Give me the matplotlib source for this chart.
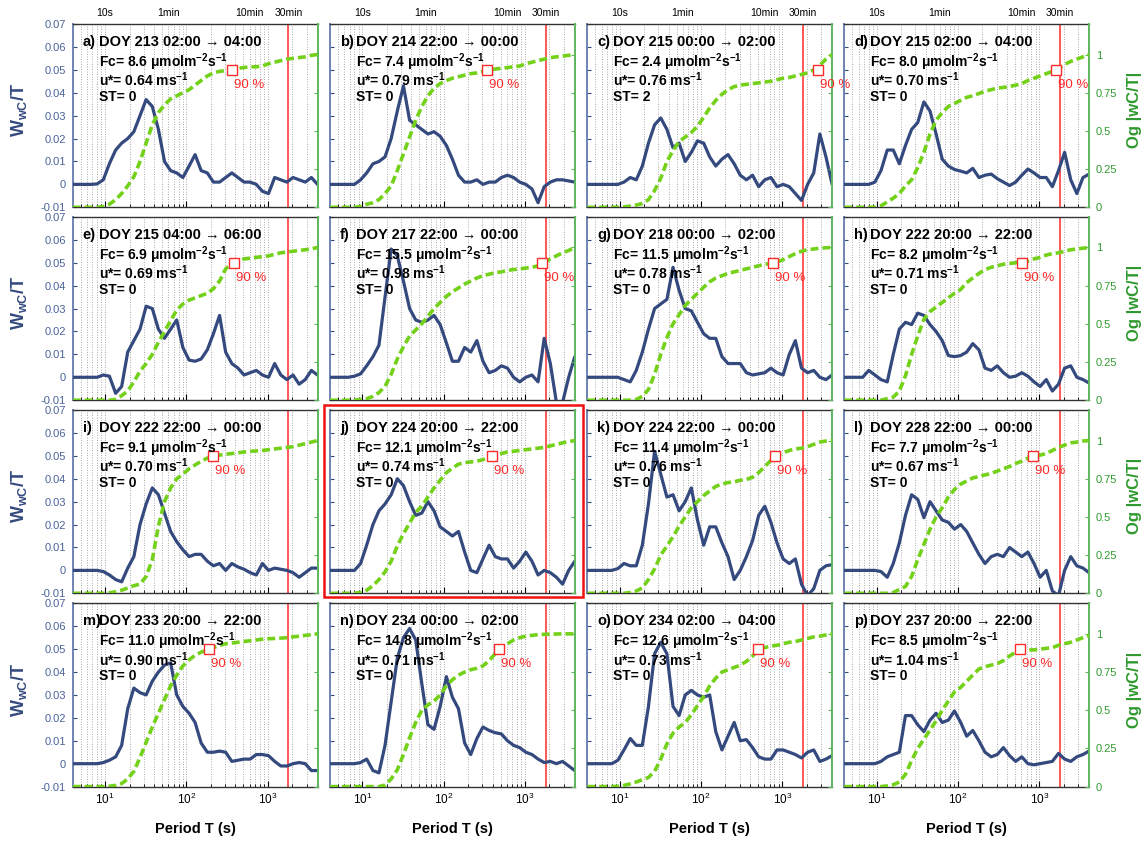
import matplotlib
matplotlib.use('Agg')
import matplotlib.pyplot as plt
from matplotlib.patches import Rectangle
from matplotlib.ticker import LogLocator, FixedLocator, FixedFormatter, NullFormatter

plt.rcParams['font.family'] = ['Liberation Sans', 'DejaVu Sans']
plt.rcParams['mathtext.fontset'] = 'custom'
plt.rcParams['mathtext.rm'] = 'Liberation Sans'
plt.rcParams['mathtext.default'] = 'regular'

# ---------------- data ----------------
periods = [4.0, 4.76, 5.66, 6.73, 8.0, 9.51, 11.3, 13.5, 16.0, 19.0, 22.6, 26.9, 32.0, 38.1,
           45.3, 53.8, 64.0, 76.1, 90.5, 108, 128, 152, 181, 215, 256, 304, 362, 431, 512,
           609, 724, 861, 1024, 1218, 1448, 1722, 2048, 2435, 2896, 3444, 4096]

wwc_a = [0, 0, 0, 0, 0.0002, 0.002, 0.009, 0.015, 0.018, 0.020, 0.023, 0.030, 0.037, 0.034, 0.024,
         0.010, 0.006, 0.005, 0.003, 0.008, 0.013, 0.006, 0.005, 0.001, 0.001, 0.003, 0.005, 0.003,
         0.001, 0.001, 0.0, -0.003, -0.004, 0.003, 0.002, 0.001, 0.003, 0.002, 0.001, 0.003, 0.0]
og_a = [0, 0, 0, 0, 0, 0.005, 0.02, 0.05, 0.09, 0.14, 0.2, 0.3, 0.42, 0.54, 0.62, 0.67, 0.71, 0.73,
        0.75, 0.77, 0.80, 0.83, 0.86, 0.88, 0.89, 0.895, 0.90, 0.91, 0.915, 0.92, 0.92, 0.925, 0.94,
        0.95, 0.96, 0.97, 0.975, 0.98, 0.985, 0.995, 1.0]

wwc_b = [0, 0, 0, 0, 0, 0.002, 0.005, 0.009, 0.010, 0.012, 0.020, 0.032, 0.043, 0.028, 0.026,
         0.024, 0.022, 0.023, 0.021, 0.017, 0.011, 0.004, 0.001, 0.001, 0.002, 0.0, 0.001, 0.001,
         0.003, 0.004, 0.003, 0.001, 0.0, -0.002, -0.008, -0.001, 0.001, 0.002, 0.002, 0.0015, 0.001]
og_b = [0, 0, 0, 0, 0, 0.005, 0.02, 0.03, 0.05, 0.09, 0.14, 0.24, 0.35, 0.46, 0.57, 0.66, 0.73,
        0.78, 0.81, 0.83, 0.845, 0.855, 0.865, 0.875, 0.88, 0.89, 0.90, 0.905, 0.91, 0.915, 0.92,
        0.925, 0.94, 0.95, 0.96, 0.97, 0.98, 0.985, 0.99, 0.995, 1.0]

wwc_c = [0, 0, 0, 0, 0, 0.0, 0.001, 0.003, 0.002, 0.008, 0.018, 0.026, 0.029, 0.024, 0.016, 0.018,
         0.010, 0.014, 0.019, 0.018, 0.012, 0.008, 0.011, 0.013, 0.009, 0.004, 0.002, 0.004, -0.001,
         0.002, 0.003, -0.001, 0.0, -0.001, -0.004, -0.007, 0.0, 0.005, 0.022, 0.012, 0.0]
og_c = [0, 0, 0, 0, 0, 0, 0.003, 0.008, 0.015, 0.025, 0.05, 0.11, 0.19, 0.30, 0.37, 0.43, 0.46,
        0.49, 0.53, 0.59, 0.65, 0.70, 0.74, 0.77, 0.79, 0.80, 0.805, 0.81, 0.815, 0.82, 0.825,
        0.835, 0.845, 0.85, 0.86, 0.87, 0.88, 0.90, 0.93, 0.97, 1.0]

wwc_d = [0, 0, 0, 0, 0, 0.001, 0.006, 0.015, 0.015, 0.009, 0.017, 0.024, 0.027, 0.036, 0.032,
         0.022, 0.011, 0.008, 0.0065, 0.0058, 0.005, 0.007, 0.003, 0.004, 0.0045, 0.0025, 0.001,
         -0.0005, 0.001, 0.004, 0.0067, 0.005, 0.003, 0.003, -0.001, 0.006, 0.014, 0.002, -0.004,
         0.003, 0.0045]
og_d = [0, 0, 0, 0, 0, 0, 0.01, 0.035, 0.06, 0.09, 0.14, 0.18, 0.26, 0.36, 0.48, 0.57, 0.62, 0.66,
        0.68, 0.70, 0.72, 0.73, 0.745, 0.76, 0.77, 0.78, 0.785, 0.79, 0.80, 0.81, 0.83, 0.845, 0.86,
        0.875, 0.89, 0.91, 0.935, 0.955, 0.97, 0.985, 1.0]

wwc_e = [0, 0, 0, 0, 0, 0.001, 0.0005, -0.007, -0.004, 0.011, 0.016, 0.021, 0.031, 0.030, 0.021,
         0.017, 0.021, 0.025, 0.013, 0.0075, 0.007, 0.008, 0.012, 0.019, 0.027, 0.011, 0.006, 0.004,
         0.001, 0.002, 0.003, 0.001, 0.0, 0.006, 0.001, -0.001, 0.001, -0.003, -0.001, 0.003, 0.001]
og_e = [0, 0, 0, 0, 0, 0, 0, 0.005, 0.03, 0.06, 0.12, 0.19, 0.24, 0.30, 0.38, 0.45, 0.52, 0.59,
        0.63, 0.655, 0.67, 0.685, 0.70, 0.73, 0.78, 0.86, 0.895, 0.91, 0.925, 0.93, 0.935, 0.94,
        0.945, 0.955, 0.965, 0.97, 0.975, 0.98, 0.985, 0.99, 1.0]

wwc_f = [0, 0, 0, 0, 0.0005, 0.0015, 0.005, 0.009, 0.014, 0.035, 0.056, 0.053, 0.042, 0.030, 0.025,
         0.024, 0.025, 0.027, 0.023, 0.015, 0.007, 0.007, 0.013, 0.011, 0.016, 0.007, 0.002, 0.003,
         0.005, 0.004, 0.0, -0.002, 0.0, 0.001, -0.002, 0.017, 0.006, -0.011, -0.011, 0.0, 0.009]
og_f = [0, 0, 0, 0, 0, 0.005, 0.01, 0.025, 0.05, 0.09, 0.17, 0.27, 0.35, 0.42, 0.46, 0.50, 0.55,
        0.60, 0.64, 0.68, 0.71, 0.735, 0.76, 0.78, 0.80, 0.815, 0.825, 0.835, 0.84, 0.85, 0.855,
        0.86, 0.865, 0.87, 0.88, 0.90, 0.925, 0.945, 0.965, 0.98, 1.0]

wwc_g = [0, 0, 0, 0, 0, 0.0, -0.001, -0.002, 0.003, 0.011, 0.021, 0.030, 0.032, 0.034, 0.048,
         0.038, 0.030, 0.029, 0.024, 0.019, 0.017, 0.017, 0.009, 0.006, 0.006, 0.006, 0.002, 0.001,
         0.0015, 0.002, 0.004, 0.002, 0.001, 0.010, 0.016, 0.004, 0.002, 0.003, 0.0, -0.001, 0.001]
og_g = [0, 0, 0, 0, 0, 0, 0, 0, 0.005, 0.025, 0.07, 0.17, 0.30, 0.41, 0.50, 0.56, 0.62, 0.66,
        0.70, 0.74, 0.775, 0.80, 0.815, 0.83, 0.84, 0.85, 0.86, 0.87, 0.88, 0.89, 0.895, 0.905,
        0.92, 0.94, 0.96, 0.975, 0.985, 0.99, 0.995, 0.998, 1.0]

wwc_h = [0, 0, 0, 0, 0.003, 0.001, -0.001, -0.002, 0.010, 0.021, 0.024, 0.023, 0.028, 0.027, 0.023,
         0.020, 0.016, 0.0095, 0.009, 0.0095, 0.011, 0.0147, 0.012, 0.004, 0.003, 0.005, 0.002,
         0.0, 0.0005, 0.002, 0.0005, -0.002, -0.004, -0.001, -0.006, -0.003, 0.004, 0.005, 0.0,
         -0.001, -0.0025]
og_h = [0, 0, 0, 0, 0, 0, 0, 0.01, 0.02, 0.06, 0.16, 0.30, 0.42, 0.53, 0.58, 0.61, 0.64, 0.67,
        0.70, 0.725, 0.77, 0.80, 0.83, 0.855, 0.87, 0.88, 0.89, 0.895, 0.90, 0.905, 0.91, 0.925,
        0.935, 0.95, 0.96, 0.965, 0.975, 0.985, 0.99, 0.995, 1.0]

wwc_i = [0, 0, 0, 0, 0, -0.0005, -0.002, -0.004, -0.005, 0.001, 0.006, 0.020, 0.029, 0.036, 0.033,
         0.025, 0.017, 0.0125, 0.009, 0.006, 0.007, 0.007, 0.004, 0.002, 0.003, 0.0, 0.003, 0.0015,
         0.0005, -0.001, -0.002, 0.003, 0.0, 0.001, 0.0005, 0.0, -0.001, -0.003, -0.001, 0.001, 0.001]
og_i = [0, 0, 0, 0, 0, 0, 0.003, 0.01, 0.02, 0.035, 0.05, 0.06, 0.11, 0.22, 0.44, 0.60, 0.69,
        0.75, 0.78, 0.815, 0.84, 0.865, 0.885, 0.895, 0.905, 0.91, 0.915, 0.92, 0.925, 0.93, 0.932,
        0.935, 0.94, 0.945, 0.95, 0.955, 0.96, 0.97, 0.98, 0.99, 1.0]

wwc_j = [0, 0, 0, 0, 0, 0.003, 0.011, 0.020, 0.026, 0.029, 0.033, 0.040, 0.037, 0.030, 0.024,
         0.025, 0.030, 0.026, 0.019, 0.017, 0.015, 0.017, 0.008, 0.0, -0.001, 0.005, 0.011, 0.006,
         0.005, 0.005, 0.001, 0.004, 0.008, 0.004, -0.002, 0.0, -0.001, -0.003, -0.006, 0.0, 0.004]
og_j = [0, 0, 0, 0, 0, 0.005, 0.02, 0.05, 0.09, 0.14, 0.21, 0.31, 0.39, 0.46, 0.53, 0.57, 0.63,
        0.69, 0.74, 0.79, 0.82, 0.845, 0.855, 0.86, 0.865, 0.875, 0.89, 0.905, 0.915, 0.925, 0.93,
        0.935, 0.94, 0.945, 0.95, 0.955, 0.965, 0.975, 0.985, 0.993, 1.0]

wwc_k = [0, 0, 0, 0, 0, 0.0008, 0.003, 0.002, 0.002, 0.011, 0.029, 0.052, 0.042, 0.032, 0.033,
         0.026, 0.030, 0.036, 0.022, 0.011, 0.019, 0.019, 0.012, 0.006, -0.004, 0.0, 0.006, 0.013,
         0.024, 0.028, 0.021, 0.012, 0.005, 0.003, 0.005, -0.006, -0.011, -0.008, 0.0, 0.002, 0.0025]
og_k = [0, 0, 0, 0, 0, 0, 0, 0.005, 0.015, 0.035, 0.09, 0.16, 0.25, 0.31, 0.37, 0.44, 0.50, 0.56,
        0.60, 0.64, 0.67, 0.70, 0.715, 0.725, 0.73, 0.74, 0.745, 0.76, 0.79, 0.83, 0.87, 0.905,
        0.92, 0.935, 0.945, 0.95, 0.96, 0.975, 0.99, 0.997, 1.0]

wwc_l = [0, 0, 0, 0, 0, 0, -0.0005, -0.003, 0.003, 0.012, 0.024, 0.033, 0.031, 0.023, 0.030,
         0.026, 0.022, 0.021, 0.018, 0.020, 0.017, 0.012, 0.007, 0.003, 0.006, 0.007, 0.006, 0.010,
         0.008, 0.006, 0.008, 0.003, -0.003, 0.0, -0.009, -0.011, 0.0, 0.006, 0.002, 0.001, -0.001]
og_l = [0, 0, 0, 0, 0, 0, 0, 0, 0.005, 0.025, 0.045, 0.11, 0.22, 0.32, 0.42, 0.50, 0.56, 0.63,
        0.68, 0.715, 0.735, 0.755, 0.765, 0.775, 0.785, 0.80, 0.815, 0.83, 0.85, 0.865, 0.885,
        0.90, 0.905, 0.915, 0.935, 0.955, 0.97, 0.985, 0.99, 0.997, 1.0]

wwc_m = [0, 0, 0, 0, 0, 0.0005, 0.0015, 0.003, 0.008, 0.024, 0.033, 0.031, 0.030, 0.036, 0.040,
         0.043, 0.044, 0.030, 0.025, 0.022, 0.018, 0.009, 0.005, 0.005, 0.0055, 0.005, 0.001,
         0.0015, 0.002, 0.002, 0.004, 0.004, 0.0035, 0.001, -0.001, -0.001, 0.0, 0.0005, 0.0,
         -0.003, -0.003]
og_m = [0, 0, 0, 0, 0, 0, 0.002, 0.008, 0.02, 0.05, 0.10, 0.19, 0.29, 0.39, 0.48, 0.57, 0.66,
        0.73, 0.79, 0.83, 0.86, 0.88, 0.895, 0.91, 0.925, 0.935, 0.94, 0.945, 0.95, 0.955, 0.96,
        0.965, 0.968, 0.97, 0.972, 0.975, 0.98, 0.985, 0.99, 0.995, 1.0]

wwc_n = [0, 0, 0, 0, 0, 0.0005, 0.002, -0.003, -0.004, 0.008, 0.027, 0.046, 0.055, 0.059, 0.054,
         0.035, 0.017, 0.015, 0.025, 0.038, 0.029, 0.024, 0.009, 0.004, 0.011, 0.016, 0.0145,
         0.0135, 0.013, 0.010, 0.008, 0.007, 0.005, 0.004, 0.002, 0.0005, 0.001, 0.0, 0.001,
         -0.001, -0.003]
og_n = [0, 0, 0, 0, 0, 0, 0, 0, 0, 0.01, 0.05, 0.11, 0.21, 0.32, 0.42, 0.50, 0.535, 0.56, 0.60,
        0.66, 0.70, 0.73, 0.75, 0.765, 0.775, 0.79, 0.825, 0.87, 0.91, 0.935, 0.96, 0.975, 0.985,
        0.99, 0.995, 0.997, 0.998, 0.999, 1.0, 1.0, 1.0]

wwc_o = [0, 0, 0, 0, 0, 0.0015, 0.006, 0.011, 0.008, 0.008, 0.025, 0.048, 0.053, 0.048, 0.025,
         0.021, 0.030, 0.032, 0.030, 0.029, 0.030, 0.014, 0.006, 0.012, 0.018, 0.010, 0.0105, 0.007,
         0.003, 0.002, 0.002, 0.006, 0.006, 0.005, 0.004, 0.0025, 0.005, 0.006, 0.001, 0.002, 0.0035]
og_o = [0, 0, 0, 0, 0, 0.002, 0.008, 0.018, 0.03, 0.045, 0.06, 0.10, 0.18, 0.28, 0.35, 0.39, 0.42,
        0.47, 0.53, 0.59, 0.66, 0.71, 0.75, 0.765, 0.78, 0.795, 0.82, 0.855, 0.895, 0.91, 0.92,
        0.925, 0.935, 0.945, 0.95, 0.96, 0.97, 0.98, 0.985, 0.993, 1.0]

wwc_p = [0, 0, 0, 0, 0, 0.0, 0.001, 0.003, 0.004, 0.005, 0.021, 0.021, 0.017, 0.014, 0.019, 0.022,
         0.018, 0.019, 0.023, 0.018, 0.012, 0.0145, 0.010, 0.005, 0.003, 0.004, 0.007, 0.0035,
         0.001, 0.003, 0.0, -0.0005, 0.0, 0.0005, 0.001, 0.0045, 0.002, 0.001, 0.003, 0.004, 0.0055]
og_p = [0, 0, 0, 0, 0, 0, 0, 0.005, 0.012, 0.03, 0.08, 0.17, 0.25, 0.31, 0.37, 0.43, 0.50, 0.56,
        0.62, 0.65, 0.69, 0.73, 0.77, 0.785, 0.795, 0.805, 0.825, 0.855, 0.88, 0.895, 0.895, 0.895,
        0.90, 0.905, 0.91, 0.925, 0.935, 0.945, 0.96, 0.975, 0.99]

panel_ids = list('abcdefghijklmnop')
doy = [213, 214, 215, 215, 215, 217, 218, 222, 222, 224, 224, 228, 233, 234, 234, 237]
t_start = ['02:00', '22:00', '00:00', '02:00', '04:00', '22:00', '00:00', '20:00',
           '22:00', '20:00', '22:00', '22:00', '20:00', '00:00', '02:00', '20:00']
t_end = ['04:00', '00:00', '02:00', '04:00', '06:00', '00:00', '02:00', '22:00',
         '00:00', '22:00', '00:00', '00:00', '22:00', '02:00', '04:00', '22:00']
fc = ['8.6', '7.4', '2.4', '8.0', '6.9', '15.5', '11.5', '8.2', '9.1', '12.1', '11.4', '7.7',
      '11.0', '14.8', '12.6', '8.5']
ustar = ['0.64', '0.79', '0.76', '0.70', '0.69', '0.98', '0.78', '0.71', '0.70', '0.74', '0.76',
         '0.67', '0.90', '0.71', '0.73', '1.04']
st = [0, 0, 2, 0, 0, 0, 0, 0, 0, 0, 0, 0, 0, 0, 0, 0]
p90_T = [368, 338, 2724, 1610, 388, 1640, 776, 609, 215, 396, 820, 832, 191, 478, 505, 577]
p90_level = 0.9
t30 = 1800
top_T = [10, 60, 600, 1800]
top_lbl = ['10s', '1min', '10min', '30min']
left_ticks = [-0.01, 0, 0.01, 0.02, 0.03, 0.04, 0.05, 0.06, 0.07]
left_lbls = ['-0.01', '0', '0.01', '0.02', '0.03', '0.04', '0.05', '0.06', '0.07']
right_ticks = [0, 0.25, 0.5, 0.75, 1]
right_lbls = ['0', '0.25', '0.5', '0.75', '1']
highlight = 'j'

wwc_all = [wwc_a, wwc_b, wwc_c, wwc_d, wwc_e, wwc_f, wwc_g, wwc_h,
           wwc_i, wwc_j, wwc_k, wwc_l, wwc_m, wwc_n, wwc_o, wwc_p]
og_all = [og_a, og_b, og_c, og_d, og_e, og_f, og_g, og_h,
          og_i, og_j, og_k, og_l, og_m, og_n, og_o, og_p]

# ---------------- style ----------------
BLUE = '#34497d'
BLUE_TXT = '#4a639a'
BLUE_SPINE = '#6f84b2'
GREEN = '#74d11a'
GREEN_SPINE = '#5cb85c'
GREEN_TXT = '#2f9a2f'
RED = '#ff2a2a'

W, H = 1145, 841
fig = plt.figure(figsize=(W / 100, H / 100), dpi=100)
col_x = [72.7, 330.0, 587.3, 844.3]
row_y = [24.0, 216.9, 410.0, 603.3]
aw, ah = 244.8, 183.3

for i in range(16):
    r, c = divmod(i, 4)
    ax = fig.add_axes([col_x[c] / W, 1 - (row_y[r] + ah) / H, aw / W, ah / H])
    ax.set_facecolor('none')
    ax.set_xscale('log')
    ax.set_xlim(4, 4096)
    ax.set_ylim(-0.01, 0.07)
    ax.xaxis.set_major_locator(LogLocator(base=10))
    ax.xaxis.set_minor_locator(LogLocator(base=10, subs=range(2, 10)))
    ax.xaxis.set_minor_formatter(NullFormatter())
    ax.grid(True, which='both', axis='x', linestyle=(0, (1, 2)), color='#8c8c8c', lw=0.6)
    ax.grid(False, axis='y')
    ax.set_axisbelow(True)

    ax.plot(periods, wwc_all[i], color=BLUE, lw=2.3, solid_joinstyle='round',
            solid_capstyle='round', zorder=3)
    ax.axvline(t30, color=RED, lw=1.1, zorder=2)

    ax.yaxis.set_major_locator(FixedLocator(left_ticks))
    ax.yaxis.set_major_formatter(FixedFormatter(left_lbls))
    ax.tick_params(axis='y', which='both', direction='in', length=3, width=0.8, color=BLUE,
                   labelcolor=BLUE_TXT, labelsize=8, left=True, right=False,
                   labelleft=(c == 0), pad=5)
    ax.tick_params(axis='x', which='major', direction='in', length=4, width=0.8,
                   labelsize=8.5, labelbottom=(r == 3), top=False, pad=4)
    ax.tick_params(axis='x', which='minor', direction='in', length=2, width=0.6, top=False)
    ax.spines['left'].set_color(BLUE_SPINE)
    ax.spines['left'].set_linewidth(1.4)
    ax.spines['right'].set_visible(False)
    for s in ('top', 'bottom'):
        ax.spines[s].set_color('#333333')
        ax.spines[s].set_linewidth(1.0)

    ax2 = ax.twinx()
    ax2.set_ylim(0, 1.2)
    ax2.plot(periods, og_all[i], color=GREEN, lw=2.6, dashes=(2.2, 1.1), zorder=3)
    ax2.plot([p90_T[i]], [p90_level], 's', mfc='white', mec=RED, ms=6.5, mew=1.0, zorder=4)
    ax2.annotate('90 %', (p90_T[i], p90_level), xytext=(2, -15), textcoords='offset pixels',
                 color=RED, fontsize=9.5, ha='left', va='center', zorder=5)
    ax2.yaxis.set_major_locator(FixedLocator(right_ticks))
    ax2.yaxis.set_major_formatter(FixedFormatter(right_lbls))
    ax2.tick_params(axis='y', direction='in', length=3, width=0.8, color=GREEN_SPINE,
                    labelcolor=GREEN_TXT, labelsize=8, labelright=(c == 3), pad=5)
    for s in ('left', 'top', 'bottom'):
        ax2.spines[s].set_visible(False)
    ax2.spines['right'].set_color(GREEN_SPINE)
    ax2.spines['right'].set_linewidth(1.4)

    # annotations
    tx = ax.transAxes
    ax2.text(10 / aw, 1 - 18 / ah, panel_ids[i] + ')', transform=tx, fontsize=10.5,
             fontweight='bold', ha='left', va='center', zorder=6)
    ax2.text(26 / aw, 1 - 18 / ah, f'DOY {doy[i]} {t_start[i]} \u2192 {t_end[i]}',
             transform=tx, fontsize=10.5, fontweight='bold', ha='left', va='center', zorder=6)
    ax2.text(26 / aw, 1 - 38 / ah, f'Fc= {fc[i]} \u03bcmolm$^{{-2}}$s$^{{-1}}$',
             transform=tx, fontsize=10, fontweight='bold', ha='left', va='center', zorder=6)
    ax2.text(26 / aw, 1 - 56 / ah, f'u*= {ustar[i]} ms$^{{-1}}$',
             transform=tx, fontsize=10, fontweight='bold', ha='left', va='center', zorder=6)
    ax2.text(26 / aw, 1 - 73 / ah, f'ST= {st[i]}',
             transform=tx, fontsize=10, fontweight='bold', ha='left', va='center', zorder=6)

    if r == 0:
        for tT, tl in zip(top_T, top_lbl):
            ax.text(tT, 1 + 11 / ah, tl, transform=ax.get_xaxis_transform(),
                    fontsize=7.5, ha='center', va='center')
    if r == 3:
        ax.text(0.5, -42 / ah, 'Period T (s)', transform=tx, fontsize=10.5,
                fontweight='bold', ha='center', va='center')
    if c == 0:
        ax.text(-(col_x[0] - 19) / aw, 0.53, 'W$_{wC}$/T', transform=tx, rotation=90,
                fontsize=13, fontweight='bold', color=BLUE, ha='center', va='center')
    if c == 3:
        ax2.text(1 + 45 / aw, 0.53, 'Og |wC/T|', transform=tx, rotation=90,
                 fontsize=12, fontweight='bold', color=GREEN_TXT, ha='center', va='center')

    if panel_ids[i] == highlight:
        x0 = col_x[c] - 6
        x1 = col_x[c] + aw + 8
        y0 = row_y[r] - 5
        y1 = row_y[r] + ah + 4
        fig.add_artist(Rectangle((x0 / W, 1 - y1 / H), (x1 - x0) / W, (y1 - y0) / H,
                                 transform=fig.transFigure, fill=False, ec='#ee1111', lw=1.8))

fig.savefig('out.png', dpi=100)
